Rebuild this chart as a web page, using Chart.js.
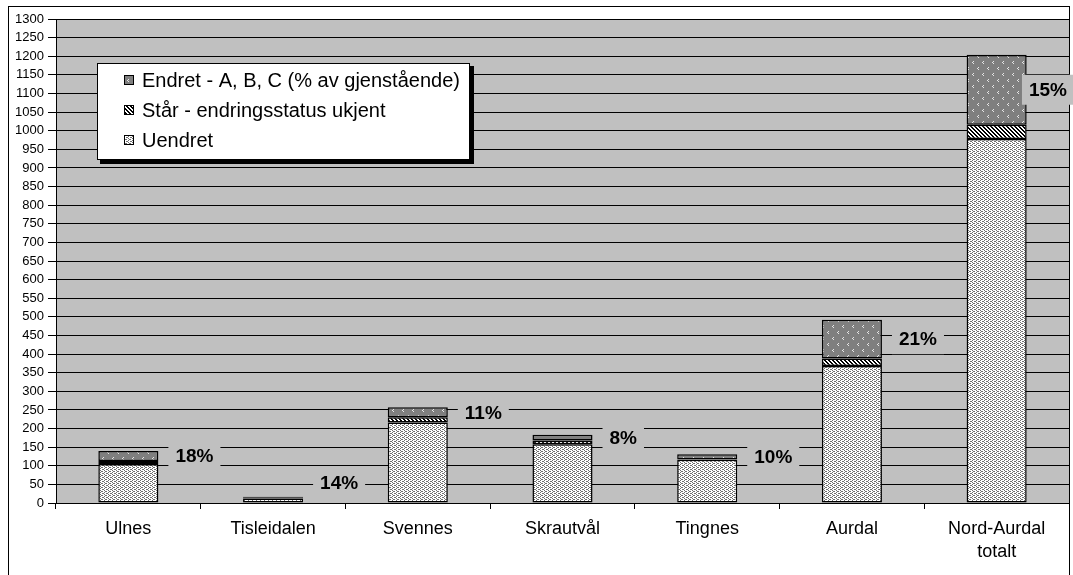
<!DOCTYPE html>
<html>
<head>
<meta charset="utf-8">
<script src="https://cdn.jsdelivr.net/npm/chart.js@4.4.1/dist/chart.umd.min.js"></script>
<style>
  body { margin: 0; background: #fff; }
  #wrap { width: 1073px; height: 575px; position: relative; }
</style>
</head>
<body>
<div id="wrap"><canvas id="chart"></canvas></div>
<script>
// data
const categories = ['Ulnes', 'Tisleidalen', 'Svennes', 'Skrautvål', 'Tingnes', 'Aurdal', ['Nord-Aurdal', 'totalt']];
const uendret = [105, 12, 216, 158, 116, 368, 978];
const staar = [8, 2, 14, 10, 1, 20, 38];
const endret = [27, 3, 27, 15, 14, 104, 188];
const pctLabels = ['18%', '14%', '11%', '8%', '10%', '21%', '15%'];
const legendOrder = ['Endret - A, B, C (% av gjenstående)', 'Står - endringsstatus ukjent', 'Uendret'];

// little tile patterns like the old excel fills
function makePattern(w, h, bg, fg, pts) {
  const c = document.createElement('canvas');
  c.width = w; c.height = h;
  const g = c.getContext('2d');
  g.fillStyle = bg;
  g.fillRect(0, 0, w, h);
  g.fillStyle = fg;
  pts.forEach(p => g.fillRect(p[0], p[1], 1, 1));
  return g.createPattern(c, 'repeat');
}

const ctx = document.getElementById('chart').getContext('2d');

const dotFill = makePattern(4, 4, '#ffffff', '#707070', [[0, 0], [2, 1], [0, 2], [2, 3], [1, 3], [3, 1]]);
const hatchFill = makePattern(4, 4, '#ffffff', '#000000', [[0, 0], [1, 1], [2, 2], [3, 3], [1, 0], [2, 1], [3, 2], [0, 3]]);
const chevronFill = makePattern(10, 12, '#7f7f7f', '#e6e6e6', [[3, 1], [2, 2], [3, 3], [8, 7], [7, 8], [8, 9]]);

const plotBg = {
  id: 'plotBg',
  beforeDraw(chart) {
    const { ctx, chartArea: a } = chart;
    ctx.save();
    ctx.fillStyle = '#fff';
    ctx.fillRect(0, 0, chart.width, chart.height);
    ctx.strokeStyle = '#000';
    ctx.lineWidth = 1;
    ctx.strokeRect(8.5, 6.5, 1061, 600);
    ctx.fillStyle = '#c0c0c0';
    ctx.fillRect(a.left, a.top, a.right - a.left, a.bottom - a.top);
    ctx.restore();
  }
};

const pctPlugin = {
  id: 'pct',
  afterDatasetsDraw(chart) {
    const { ctx, chartArea: a } = chart;
    const meta = chart.getDatasetMeta(2);
    ctx.save();
    ctx.font = 'bold 19px "Liberation Sans", Arial, sans-serif';
    ctx.textBaseline = 'middle';
    meta.data.forEach((el, i) => {
      const txt = pctLabels[i];
      const tw = ctx.measureText(txt).width;
      let x = el.x + el.width / 2 + 17;
      let y = (el.y + el.base) / 2;
      if (y > a.bottom - 20) y = a.bottom - 20;
      if (x + tw > a.right - 2) x = a.right - 2 - tw;
      ctx.fillStyle = '#c0c0c0';
      ctx.fillRect(x - 7, y - 15, tw + 14, 30);
      ctx.fillStyle = '#000';
      ctx.fillText(txt, x, y + 1);
    });
    ctx.restore();
  }
};

const boxLegend = {
  id: 'boxLegend',
  afterDraw(chart) {
    const ctx = chart.ctx;
    const fills = [chevronFill, hatchFill, dotFill];
    ctx.save();
    ctx.fillStyle = '#000';
    ctx.fillRect(100, 66, 374, 98);
    ctx.fillStyle = '#fff';
    ctx.fillRect(97, 63, 373, 97);
    ctx.strokeStyle = '#000';
    ctx.lineWidth = 1;
    ctx.strokeRect(97.5, 63.5, 372, 96);
    ctx.font = '20px "Liberation Sans", Arial, sans-serif';
    ctx.textBaseline = 'middle';
    legendOrder.forEach((lbl, i) => {
      const y = 80 + i * 30;
      ctx.fillStyle = fills[i];
      ctx.fillRect(124, y - 5, 10, 10);
      ctx.strokeStyle = '#000';
      ctx.strokeRect(124.5, y - 4.5, 9, 9);
      ctx.fillStyle = '#000';
      ctx.fillText(lbl, 142, y + 1);
    });
    ctx.restore();
  }
};

const barStyle = { borderColor: '#000', borderWidth: 1.5, borderSkipped: false, categoryPercentage: 1, barPercentage: 0.415 };

new Chart(ctx, {
  type: 'bar',
  data: {
    labels: categories,
    datasets: [
      { label: 'Uendret', data: uendret, backgroundColor: dotFill, ...barStyle },
      { label: 'Står - endringsstatus ukjent', data: staar, backgroundColor: hatchFill, ...barStyle },
      { label: 'Endret - A, B, C (% av gjenstående)', data: endret, backgroundColor: chevronFill, ...barStyle }
    ]
  },
  options: {
    responsive: true,
    maintainAspectRatio: false,
    animation: false,
    layout: { padding: { left: 8, top: 19, right: 4, bottom: 0 } },
    plugins: { legend: { display: false }, tooltip: { enabled: false } },
    scales: {
      x: {
        stacked: true,
        afterFit: s => { s.height = 72; },
        grid: { drawOnChartArea: false, tickLength: 6, color: '#000', offset: true },
        border: { color: '#000', width: 1 },
        ticks: { color: '#000', padding: 9, font: { family: '"Liberation Sans", Arial, sans-serif', size: 18, lineHeight: 1.25 } }
      },
      y: {
        stacked: true,
        min: 0,
        max: 1300,
        afterFit: s => { s.width = 48; },
        grid: { color: '#000', lineWidth: 1, tickLength: 8 },
        border: { color: '#000', width: 1 },
        ticks: {
          stepSize: 50,
          color: '#000',
          padding: 4,
          font: { family: '"Liberation Sans", Arial, sans-serif', size: 13 },
          callback: v => String(v)
        }
      }
    }
  },
  plugins: [plotBg, pctPlugin, boxLegend]
});
</script>
</body>
</html>
